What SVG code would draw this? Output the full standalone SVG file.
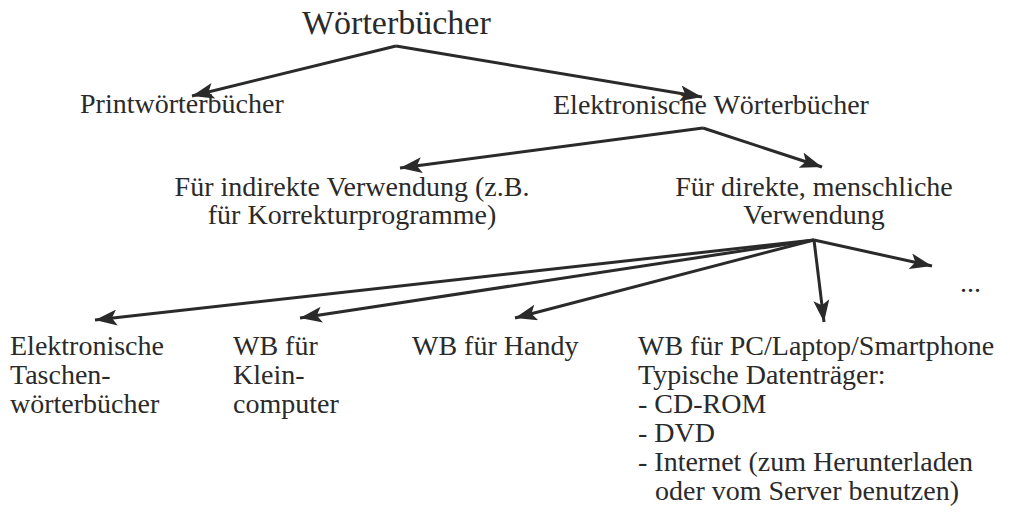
<svg xmlns="http://www.w3.org/2000/svg" width="1010" height="512" viewBox="0 0 1010 512">
<defs>
<style>
text{font-family:"Liberation Serif","Times New Roman",serif;fill:#2a2a2a;font-size:28px}
.title{font-size:34px}
.arr{stroke:#2a2a2a;stroke-width:3;fill:none;marker-end:url(#ah)}
</style>
<marker id="ah" markerUnits="userSpaceOnUse" markerWidth="24" markerHeight="16" refX="22" refY="8" orient="auto">
<path d="M0,0 L22,8 L0,16 L5,8 Z" fill="#2a2a2a"/>
</marker>
</defs>
<rect width="1010" height="512" fill="#ffffff"/>
<g id="connectors">
<line class="arr" x1="396" y1="46" x2="192" y2="96"/>
<line class="arr" x1="396" y1="46" x2="702" y2="97"/>
<line class="arr" x1="703" y1="128" x2="400" y2="168"/>
<line class="arr" x1="703" y1="128" x2="822" y2="167"/>
<line class="arr" x1="814" y1="240" x2="95" y2="320"/>
<line class="arr" x1="814" y1="240" x2="300" y2="318"/>
<line class="arr" x1="814" y1="240" x2="515" y2="318"/>
<line class="arr" x1="814" y1="240" x2="824" y2="322"/>
<line class="arr" x1="814" y1="240" x2="932" y2="266"/>
</g>
<g id="n-root"><text class="title" x="302" y="34">Wörterbücher</text></g>
<g id="n-print"><text x="80" y="113">Printwörterbücher</text></g>
<g id="n-elek"><text x="553" y="114">Elektronische Wörterbücher</text></g>
<g id="n-indirekt"><text x="352" y="196" text-anchor="middle">Für indirekte Verwendung (z.B.</text><text x="352" y="224" text-anchor="middle">für Korrekturprogramme)</text></g>
<g id="n-direkt"><text x="814" y="196" text-anchor="middle">Für direkte, menschliche</text><text x="814" y="224" text-anchor="middle">Verwendung</text></g>
<g id="n-more"><text x="960" y="292">...</text></g>
<g id="n-tasche"><text x="10" y="355">Elektronische</text><text x="10" y="384">Taschen-</text><text x="10" y="413">wörterbücher</text></g>
<g id="n-klein"><text x="233" y="355">WB für</text><text x="233" y="384">Klein-</text><text x="233" y="413">computer</text></g>
<g id="n-handy"><text x="412" y="355">WB für Handy</text></g>
<g id="n-pc"><text x="638" y="355">WB für PC/Laptop/Smartphone</text><text x="638" y="384">Typische Datenträger:</text><text x="638" y="413">- CD-ROM</text><text x="638" y="442">- DVD</text><text x="638" y="471">- Internet (zum Herunterladen</text><text x="655" y="500">oder vom Server benutzen)</text></g>
</svg>
